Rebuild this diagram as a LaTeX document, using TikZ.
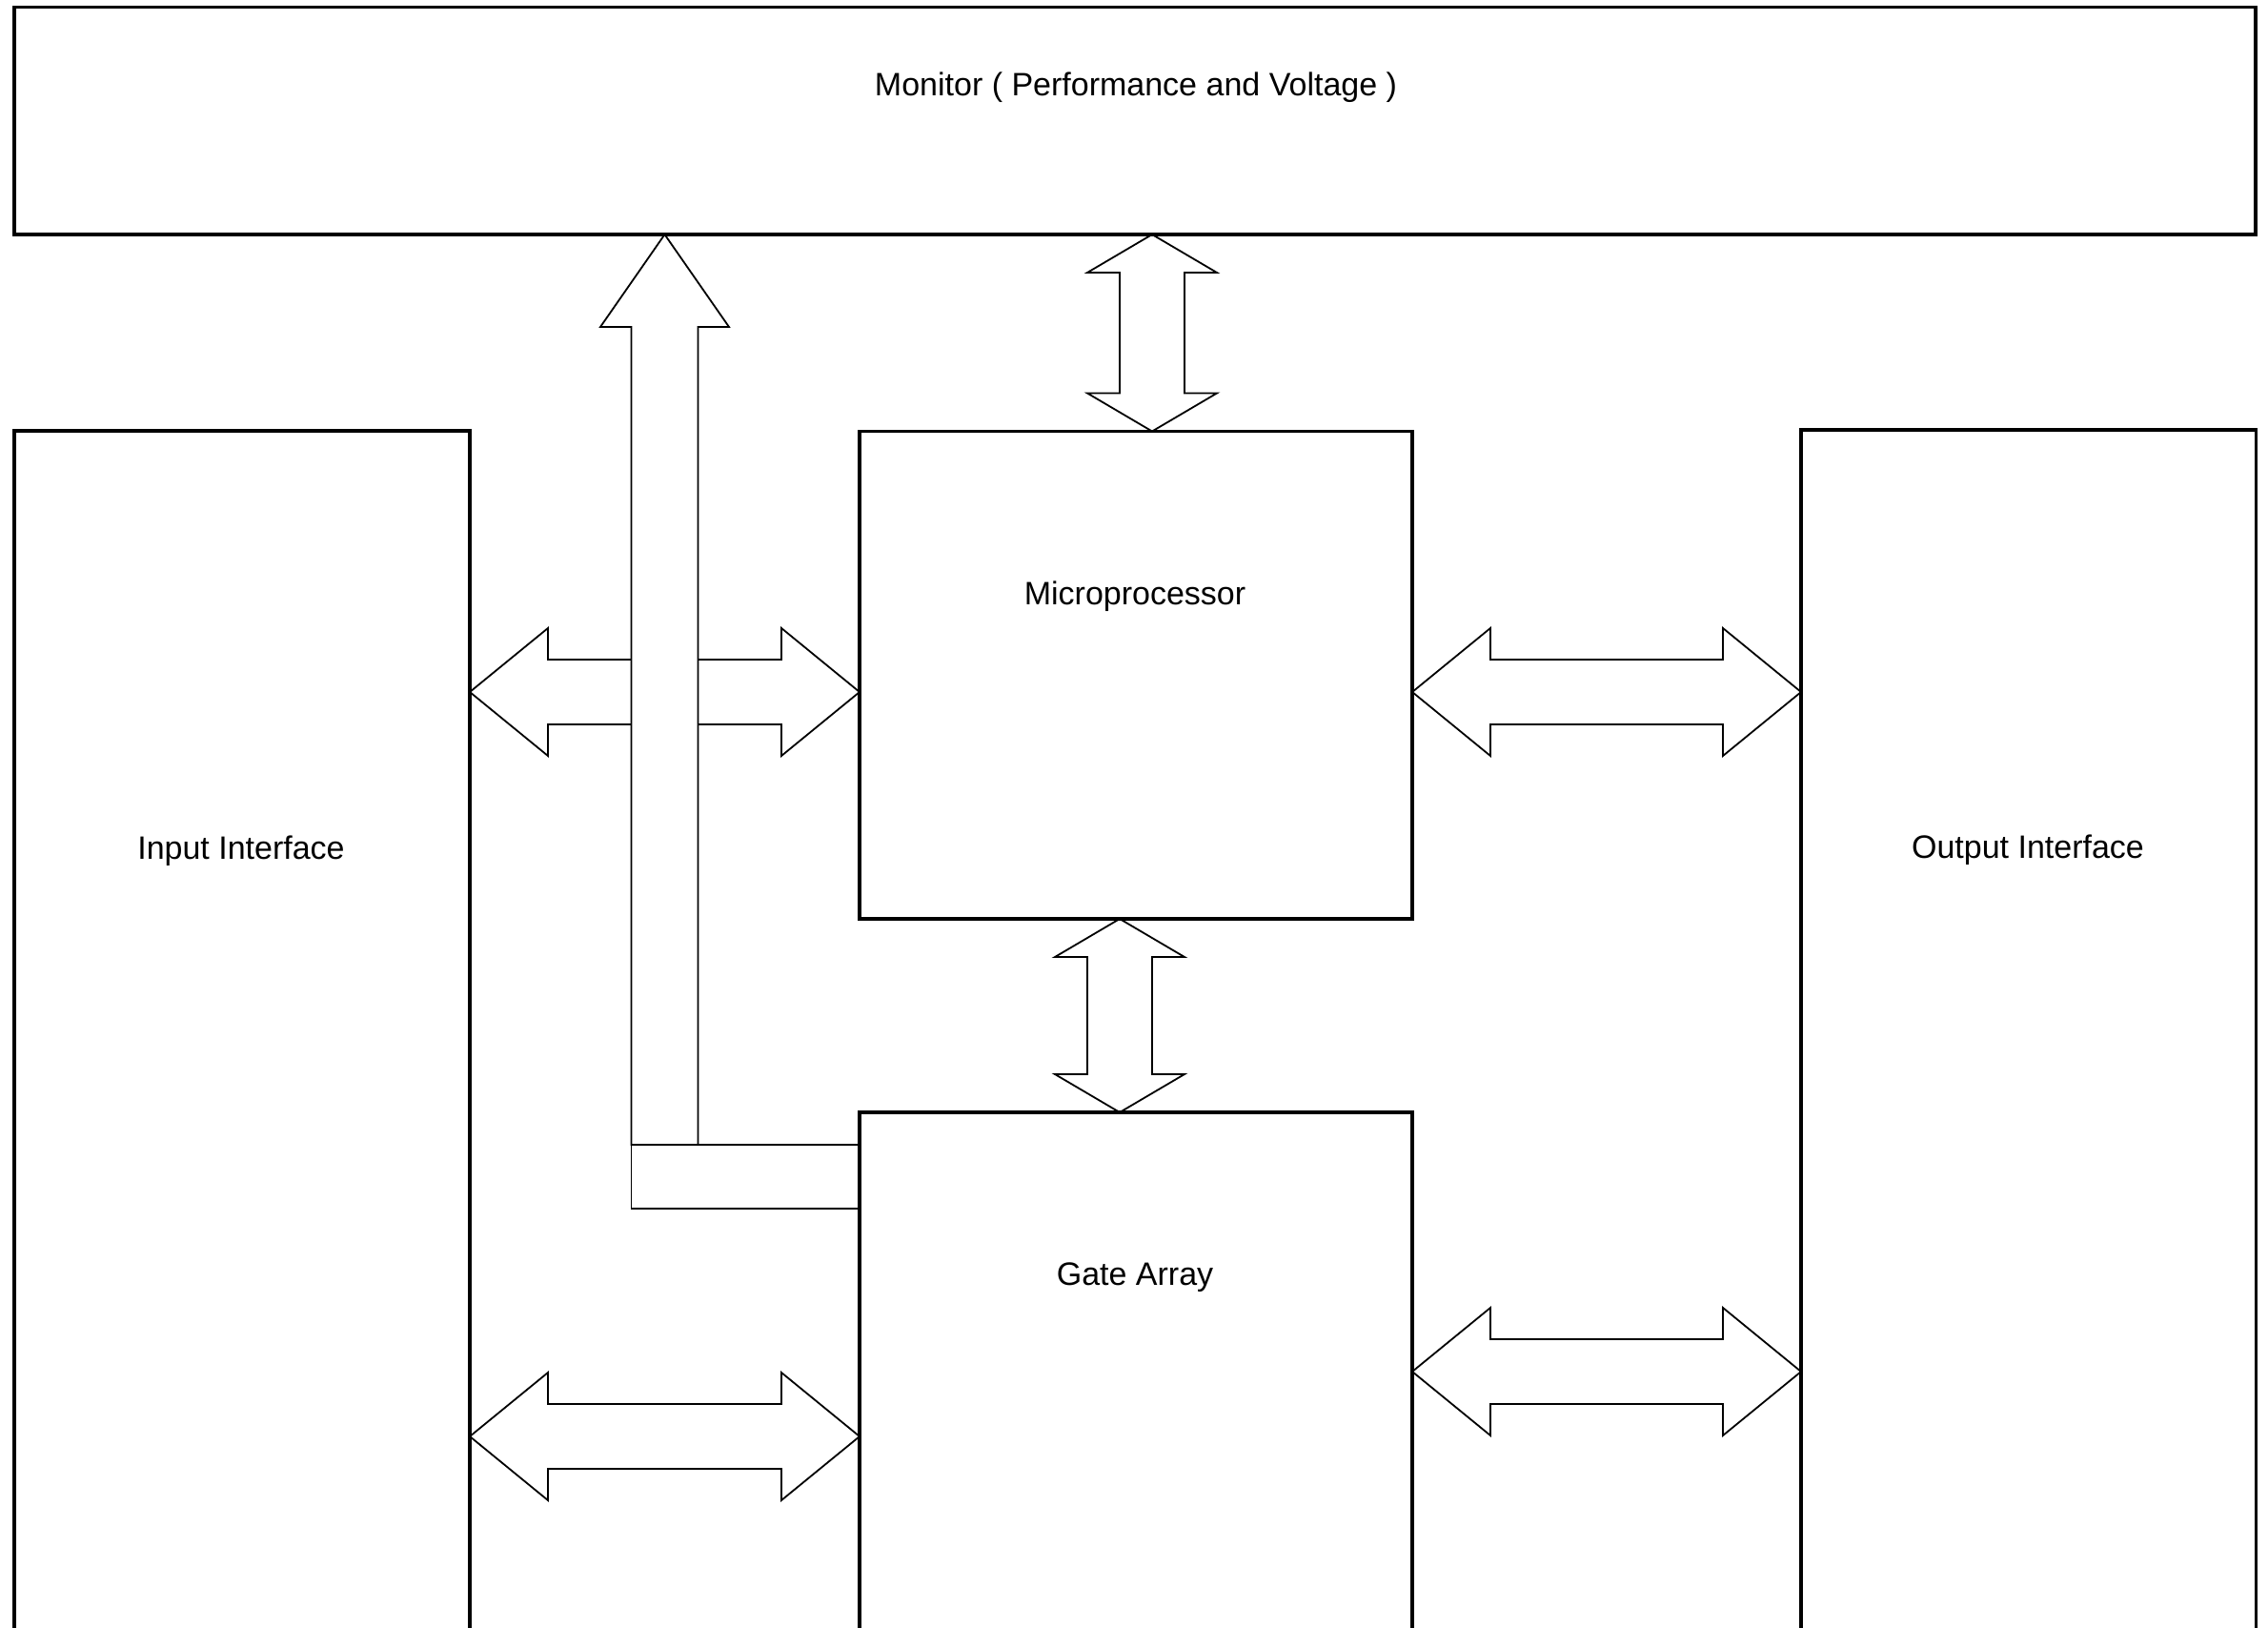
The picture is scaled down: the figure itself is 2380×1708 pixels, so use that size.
\documentclass[tikz,border=0pt]{standalone}
\usepackage{fontspec}
\setmainfont{Liberation Sans}
\usetikzlibrary{calc}
\tikzset{
  box/.style={draw, line width=3.2pt, rectangle, anchor=north west, inner sep=0pt, outer sep=0pt},
  barbox/.style={draw, line width=1.8pt, rectangle, anchor=north west, inner sep=0pt, outer sep=0pt},
  lbl/.style={font=\fontsize{34}{40}\selectfont, inner sep=0pt},
  arr/.style={draw, line width=1.8pt, line join=miter},
  dblH/.style={to path={let \p1=(\tikztostart),\p2=(\tikztotarget) in
     -- (\x1+82pt,\y1+67pt) -- (\x1+82pt,\y1+34pt) -- (\x2-82pt,\y1+34pt) -- (\x2-82pt,\y1+67pt)
     -- (\x2,\y1) -- (\x2-82pt,\y1-67pt) -- (\x2-82pt,\y1-34pt) -- (\x1+82pt,\y1-34pt)
     -- (\x1+82pt,\y1-67pt) -- cycle}},
  dblV/.style={to path={let \p1=(\tikztostart),\p2=(\tikztotarget) in
     -- (\x1+68pt,\y1-40pt) -- (\x1+34pt,\y1-40pt) -- (\x1+34pt,\y2+40pt) -- (\x1+68pt,\y2+40pt)
     -- (\x1,\y2) -- (\x1-68pt,\y2+40pt) -- (\x1-34pt,\y2+40pt) -- (\x1-34pt,\y1-40pt)
     -- (\x1-68pt,\y1-40pt) -- cycle}},
  upblk/.style={to path={let \p1=(\tikztostart),\p2=(\tikztotarget) in
     -- (\x1+67.5pt,\y1-97pt) -- (\x1+35pt,\y1-97pt) -- (\x1+35pt,\y2) -- (\x1-35pt,\y2)
     -- (\x1-35pt,\y1-97pt) -- (\x1-67.5pt,\y1-97pt) -- cycle}},
  halfL/.style={to path={let \p1=(\tikztostart),\p2=(\tikztotarget) in
     (\x2,\y1+34pt) -- (\x1+82pt,\y1+34pt) -- (\x1+82pt,\y1+67pt) -- (\x1,\y1)
     -- (\x1+82pt,\y1-67pt) -- (\x1+82pt,\y1-34pt) -- (\x2,\y1-34pt)}},
  halfR/.style={to path={let \p1=(\tikztostart),\p2=(\tikztotarget) in
     (\x2,\y1+34pt) -- (\x1-82pt,\y1+34pt) -- (\x1-82pt,\y1+67pt) -- (\x1,\y1)
     -- (\x1-82pt,\y1-67pt) -- (\x1-82pt,\y1-34pt) -- (\x2,\y1-34pt)}},
}
\begin{document}
\begin{tikzpicture}[x=1pt,y=-1pt]
\useasboundingbox (0,0) rectangle (2380,1708);
\fill[white] (0,0) rectangle (2380,1708);
\clip (0,0) rectangle (2380,1708);

% blocks
\node[box, minimum width=2352pt, minimum height=238.5pt] (monitor) at (15,7.5) {};
\node[box, minimum width=478pt, minimum height=1400pt] (input) at (15,452) {};
\node[box, minimum width=580pt, minimum height=511.5pt] (micro) at (902,452.5) {};
\node[box, minimum width=580pt, minimum height=700pt] (gate) at (902,1167) {};
\node[box, minimum width=477.5pt, minimum height=1400pt] (output) at (1890,451) {};
\node[barbox, minimum width=239.5pt, minimum height=67pt] (bar) at (662.5,1201) {};

% labels
\node[lbl] (monL) at (1192,92) {Monitor ( Performance and Voltage )};
\node[lbl] (microL) at (1191,626) {Microprocessor};
\node[lbl] (inL) at (253,893) {Input Interface};
\node[lbl] (outL) at (2128,892) {Output Interface};
\node[lbl] (gateL) at (1191,1340) {Gate Array};

% connector end points
\coordinate (mm1) at (monitor.south -| 1209,0);
\coordinate (mm2) at (micro.north -| 1209,0);
\coordinate (mg1) at (micro.south -| 1175,0);
\coordinate (mg2) at (gate.north -| 1175,0);
\coordinate (mo1) at (micro.east |- 0,726);
\coordinate (mo2) at (output.west |- 0,726);
\coordinate (go1) at (gate.east |- 0,1439);
\coordinate (go2) at (output.west |- 0,1439);
\coordinate (ig1) at (input.east |- 0,1507);
\coordinate (ig2) at (gate.west |- 0,1507);
\coordinate (im1) at (input.east |- 0,726);
\coordinate (im2) at (micro.west |- 0,726);
\coordinate (up1) at (monitor.south -| 697.5,0);
\coordinate (up2) at (bar.north -| 697.5,0);
\coordinate (sL) at ($(up1 |- im1)+(-35,0)$);
\coordinate (sR) at ($(up1 |- im1)+(35,0)$);

% block arrows
\draw[arr] (mm1) to[dblV] (mm2);
\draw[arr] (mg1) to[dblV] (mg2);
\draw[arr] (mo1) to[dblH] (mo2);
\draw[arr] (go1) to[dblH] (go2);
\draw[arr] (ig1) to[dblH] (ig2);
\draw[arr] (up1) to[upblk] (up2);
\draw[arr] (im1) to[halfL] (sL);
\draw[arr] (im2) to[halfR] (sR);
\end{tikzpicture}
\end{document}
